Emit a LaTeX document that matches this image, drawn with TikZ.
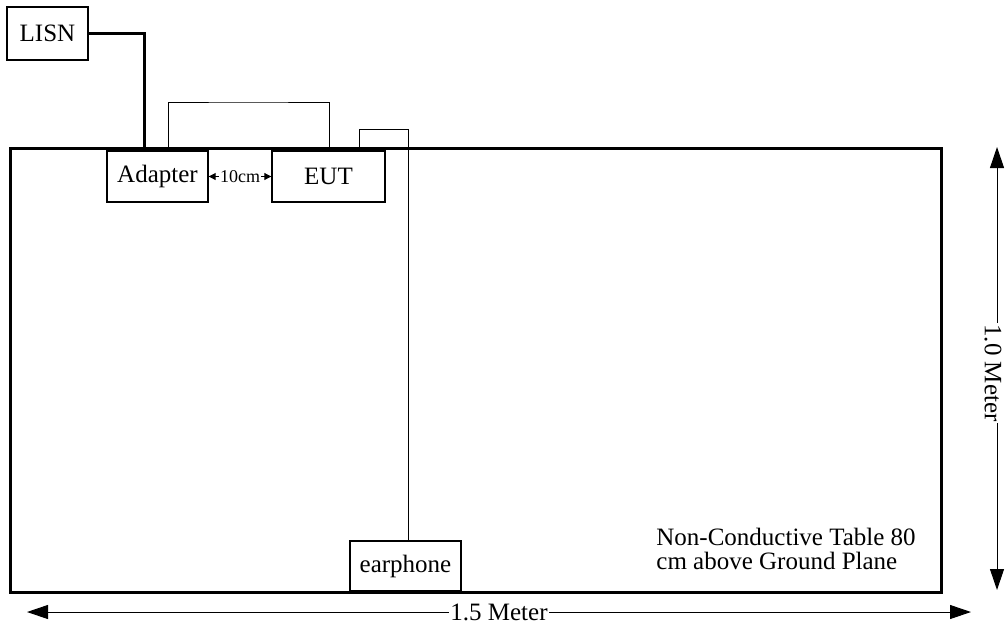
\documentclass[tikz,border=0pt]{standalone}
\usepackage{fontspec}
\setmainfont{Liberation Serif}
\usetikzlibrary{arrows.meta}

\begin{document}
\begin{tikzpicture}[x=0.5pt, y=-0.5pt]
\tikzset{boite/.style={draw, line width=0.7pt, inner sep=0pt, font=\fontsize{12.5}{14}\selectfont},
  cable/.style={line width=0.5pt},
  fil/.style={line width=1.5pt},
  cote/.style={line width=0.5pt, {Triangle[length=10.5pt,width=7pt]}-{Triangle[length=10.5pt,width=7pt]}},
  petitecote/.style={line width=0.5pt, {Triangle[length=3.5pt,width=3.5pt]}-{Triangle[length=3.5pt,width=3.5pt]}}}
\useasboundingbox (0,0) rectangle (1005,628);
% table
\draw[line width=1.5pt] (10,148) rectangle (941,592);
% equipment
\node[boite, minimum width=40.5pt, minimum height=26.5pt] (LISN) at (47.5,33.5) {LISN};
\node[boite, minimum width=50.5pt, minimum height=25.5pt] (Adapter) at (157.5,176.5) {Adapter};
\node[boite, minimum width=56.5pt, minimum height=25.5pt] (EUT) at (328.5,176.5) {EUT};
\node[boite, minimum width=55.5pt, minimum height=25pt] (earphone) at (405.5,566) {earphone};
% cables
\coordinate (A1) at (144,148);
\coordinate (C1) at (168,148);
\coordinate (C2) at (329,148);
\coordinate (E1) at (359,148);
\coordinate (E2) at (408.5,129);
\draw[fil] (LISN.east) -| (A1);
\draw[cable] (C1) |- (248,102) -| (C2);
\draw[cable] (E1) |- (E2) -- (E2 |- earphone.north);
\draw[petitecote] (Adapter.east) -- (EUT.west) node[midway, fill=white, inner sep=0.5pt, font=\fontsize{9}{9}\selectfont] {10cm};
% dimensions
\coordinate (H1) at (27,612);
\coordinate (H2) at (971,612);
\coordinate (V1) at (997,147);
\coordinate (V2) at (997,590);
\draw[cote] (H1) -- (H2) node[pos=0.5, fill=white, inner sep=0.5pt, font=\fontsize{12.5}{14}\selectfont] {1.5 Meter};
\draw[cote] (V1) -- (V2) node[pos=0.51, fill=white, inner sep=0.5pt, rotate=-90, yshift=-2pt, font=\fontsize{12.5}{14}\selectfont] {1.0 Meter};
\node[anchor=west, align=left, inner sep=0pt, font=\fontsize{12.5}{12}\selectfont] (note) at (656,549) {Non-Conductive Table 80\\cm above Ground Plane};
\end{tikzpicture}
\end{document}
